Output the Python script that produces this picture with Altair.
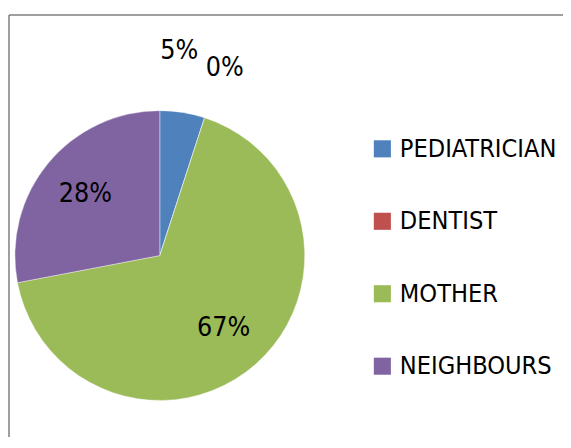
import altair as alt
import pandas as pd

categories = ["PEDIATRICIAN", "DENTIST", "MOTHER", "NEIGHBOURS"]
shares = [5, 0, 67, 28]
colors = ["#4F81BD", "#C0504D", "#9BBB59", "#8064A2"]
labels = [f"{v}%" for v in shares]

df = pd.DataFrame({"category": categories, "share": shares,
                   "idx": list(range(len(categories))), "label": labels})

FONT = "DejaVu Sans Condensed, Liberation Sans Narrow, Liberation Sans, sans-serif"
CX, CY = 154, 248
W, H = 563, 432

base = alt.Chart(df).encode(
    theta=alt.Theta("share:Q", stack=True),
    order=alt.Order("idx:Q"),
    x=alt.value(CX),
    y=alt.value(CY),
)

pie = base.mark_arc(outerRadius=147, stroke="white", strokeWidth=0.4).encode(
    color=alt.Color(
        "category:N",
        scale=alt.Scale(domain=categories, range=colors),
        legend=alt.Legend(
            title=None, orient="none", legendX=367, legendY=127,
            symbolType="square", symbolSize=300, symbolStrokeWidth=0,
            labelFont=FONT, labelFontSize=25.5, labelColor="black",
            labelLimit=400, rowPadding=46.5, labelOffset=5,
        ),
    )
)

txt = dict(font=FONT, fontSize=27, color="black")

inside = base.transform_calculate(
    t="datum.share >= 10 ? datum.label : ''"
).mark_text(radius=98, **txt).encode(text="t:N")

out_ped = base.transform_calculate(
    t="datum.category == 'PEDIATRICIAN' ? datum.label : ''"
).mark_text(radius=202, dx=-12, dy=-8, **txt).encode(text="t:N")

out_den = base.transform_calculate(
    t="datum.category == 'DENTIST' ? datum.label : ''"
).mark_text(radius=200, dx=4, **txt).encode(text="t:N")

frame = alt.Chart(alt.Data(values=[{"k": 1}]))
top_line = frame.mark_rule(color="#7f7f7f", strokeWidth=1.5).encode(
    x=alt.value(1), x2=alt.value(W), y=alt.value(4))
left_line = frame.mark_rule(color="#7f7f7f", strokeWidth=1.5).encode(
    x=alt.value(1), y=alt.value(4), y2=alt.value(H))

chart = alt.layer(top_line, left_line, pie, inside, out_ped, out_den).properties(
    width=W, height=H, padding=0,
    autosize=alt.AutoSizeParams(type="none"),
    background="white",
).configure_view(stroke=None)

chart.save("out.html", embed_options={"renderer": "svg", "actions": False})
